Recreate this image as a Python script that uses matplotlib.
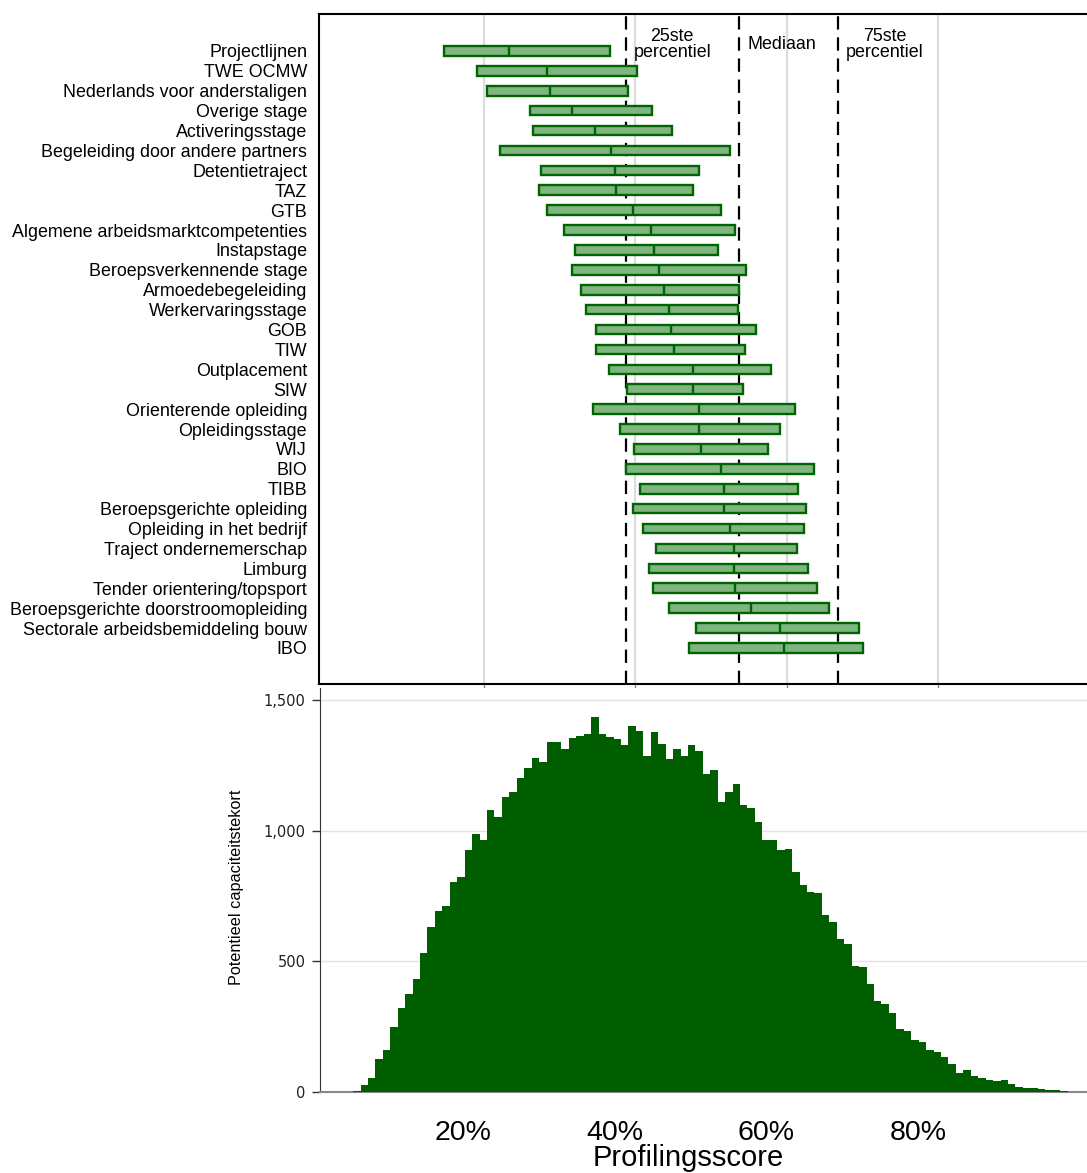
import numpy as np
import matplotlib.pyplot as plt

# bovenste paneel: kwartielen per maatregel
categories = [
    'Projectlijnen', 'TWE OCMW', 'Nederlands voor anderstaligen', 'Overige stage',
    'Activeringsstage', 'Begeleiding door andere partners', 'Detentietraject', 'TAZ',
    'GTB', 'Algemene arbeidsmarktcompetenties', 'Instapstage', 'Beroepsverkennende stage',
    'Armoedebegeleiding', 'Werkervaringsstage', 'GOB', 'TIW', 'Outplacement', 'SIW',
    'Orienterende opleiding', 'Opleidingsstage', 'WIJ', 'BIO', 'TIBB',
    'Beroepsgerichte opleiding', 'Opleiding in het bedrijf', 'Traject ondernemerschap',
    'Limburg', 'Tender orientering/topsport', 'Beroepsgerichte doorstroomopleiding',
    'Sectorale arbeidsbemiddeling bouw', 'IBO',
]
q1 = [0.148, 0.191, 0.204, 0.261, 0.265, 0.222, 0.275, 0.273, 0.284, 0.306, 0.320,
      0.317, 0.329, 0.335, 0.348, 0.348, 0.365, 0.389, 0.345, 0.380, 0.399, 0.388,
      0.406, 0.397, 0.410, 0.428, 0.418, 0.423, 0.445, 0.481, 0.471]
median = [0.234, 0.284, 0.288, 0.317, 0.347, 0.368, 0.374, 0.375, 0.397, 0.421, 0.425,
          0.431, 0.438, 0.445, 0.447, 0.452, 0.476, 0.476, 0.484, 0.485, 0.487, 0.514,
          0.518, 0.518, 0.525, 0.530, 0.531, 0.532, 0.553, 0.592, 0.597]
q3 = [0.367, 0.402, 0.390, 0.422, 0.449, 0.526, 0.485, 0.476, 0.513, 0.532, 0.510,
      0.546, 0.537, 0.536, 0.560, 0.545, 0.579, 0.543, 0.611, 0.592, 0.576, 0.636,
      0.615, 0.626, 0.623, 0.614, 0.629, 0.640, 0.656, 0.696, 0.701]

# percentielen van de totale populatie
overall_pct = [0.3877, 0.5376, 0.668]

# onderste paneel: histogram van de profilingsscore
hist_counts = [
    5, 27, 55, 126, 161, 248, 323, 374, 432, 531, 630, 691, 711, 802, 822, 925, 986,
    966, 1079, 1054, 1129, 1147, 1200, 1240, 1279, 1262, 1341, 1341, 1311, 1355, 1361,
    1369, 1434, 1371, 1360, 1350, 1328, 1401, 1380, 1287, 1378, 1332, 1274, 1313, 1287,
    1328, 1305, 1217, 1232, 1109, 1146, 1179, 1100, 1087, 1034, 964, 964, 926, 929, 843,
    793, 767, 760, 679, 649, 584, 566, 482, 477, 413, 349, 337, 303, 240, 235, 199, 193,
    160, 152, 133, 106, 72, 84, 60, 55, 46, 42, 46, 29, 18, 15, 15, 10, 8, 7, 3, 1,
]
hist_range = (0.055, 1.007)

x_ticks = [0.2, 0.4, 0.6, 0.8]
x_tick_labels = ['20%', '40%', '60%', '80%']
y_ticks = [0, 500, 1000, 1500]
y_tick_labels = ['0', '500', '1,000', '1,500']

plt.rcParams['font.family'] = ['Liberation Sans', 'DejaVu Sans']

fig = plt.figure(figsize=(10.87, 11.73), dpi=100)

# ---- boxen ----
ax1 = fig.add_axes([0.2935, 0.4169, 0.7065, 0.5712])
ypos = np.arange(len(categories))
lo = np.array(q1)
hi = np.array(q3)
ax1.barh(ypos, hi - lo, left=lo, height=0.48, color='#80b480',
         edgecolor='#006400', linewidth=1.7, zorder=3)
ax1.vlines(median, ypos - 0.24, ypos + 0.24, color='#006400', linewidth=1.7, zorder=4)

for v in overall_pct:
    ax1.axvline(v, color='black', linewidth=1.6, dashes=(6, 3.5), zorder=2)

ax1.text(0.449, -0.33, '25ste\npercentiel', ha='center', va='center', fontsize=12.9, linespacing=0.95)
ax1.text(0.548, -0.35, 'Mediaan', ha='left', va='center', fontsize=12.9)
ax1.text(0.730, -0.33, '75ste\npercentiel', ha='center', va='center', fontsize=12.9, linespacing=0.95)

ax1.set_xlim(-0.0176, 0.997)
ax1.set_ylim(31.81, -1.86)
ax1.set_yticks(ypos, categories)
ax1.tick_params(axis='y', length=0, pad=8.6, labelsize=12.9)
ax1.set_xticks(x_ticks, [''] * len(x_ticks))
ax1.tick_params(axis='x', length=3, color='#888888', width=1)
ax1.grid(axis='x', color='#dcdcdc', linewidth=1.6)
ax1.set_axisbelow(True)
for s in ['left', 'top', 'bottom']:
    ax1.spines[s].set_linewidth(1.5)
ax1.spines['right'].set_visible(False)

# ---- histogram ----
ax2 = fig.add_axes([0.2944, 0.0691, 0.7056, 0.3444])
edges = np.linspace(hist_range[0], hist_range[1], len(hist_counts) + 1)
ax2.bar(edges[:-1], hist_counts, width=np.diff(edges), align='edge',
        color='#005e00', linewidth=0, zorder=3)
ax2.set_xlim(0.0114, 1.0229)
ax2.set_ylim(0, 1546)
ax2.set_yticks(y_ticks, y_tick_labels)
ax2.tick_params(axis='y', length=6, width=1, color='#333333', pad=4.5,
                labelsize=10.5, labelcolor='#222222')
for lab in ax2.get_yticklabels():
    lab.set_family('DejaVu Sans')
ax2.set_xticks(x_ticks, x_tick_labels)
ax2.tick_params(axis='x', length=0, pad=20, labelsize=20.5)
ax2.grid(axis='y', color='#e3e3e3', linewidth=1)
ax2.set_axisbelow(True)
ax2.spines['top'].set_visible(False)
ax2.spines['right'].set_visible(False)
ax2.spines['left'].set_color('#333333')
ax2.spines['bottom'].set_color('#888888')
ax2.spines['bottom'].set_linewidth(1.5)

fig.text(236 / 1087, 1 - 887 / 1173, 'Potentieel capaciteitstekort', rotation=90,
         ha='center', va='center', fontsize=11.7)
fig.text(688 / 1087, 0.0128, 'Profilingsscore', ha='center', va='center', fontsize=21)

fig.savefig('out.png', dpi=100)
